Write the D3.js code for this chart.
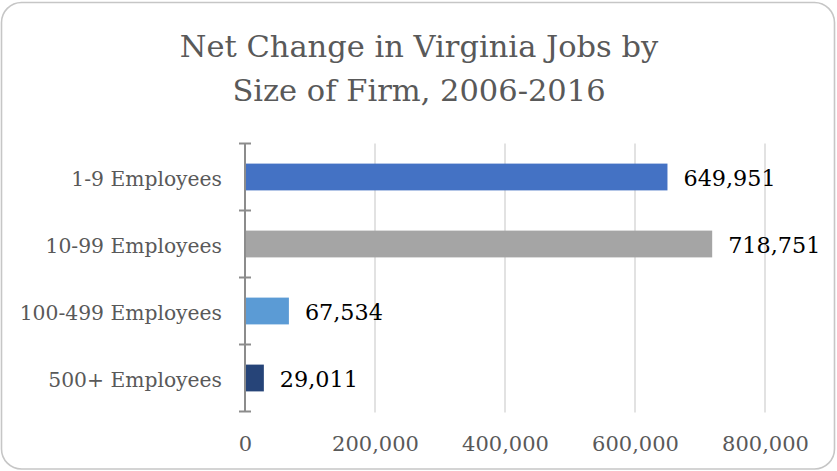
<!DOCTYPE html>
<html>
<head>
<meta charset="utf-8">
<script src="https://cdn.jsdelivr.net/npm/d3@7/dist/d3.min.js"></script>
<style>
  html, body { margin: 0; padding: 0; background: #fff; }
  svg { display: block; }
</style>
</head>
<body>
<svg id="chart" width="837" height="471"></svg>
<script>
const categories = ["1-9 Employees", "10-99 Employees", "100-499 Employees", "500+ Employees"];
const values = [649951, 718751, 67534, 29011];
const colors = ["#4472C4", "#A5A5A5", "#5B9BD5", "#264478"];
const tickValues = [0, 200000, 400000, 600000, 800000];
const titleLines = ["Net Change in Virginia Jobs by", "Size of Firm, 2006-2016"];

const FONT = "'DejaVu Serif', 'Liberation Serif', serif";
const svg = d3.select("#chart");

// border
svg.append("rect")
  .attr("x", 1.5).attr("y", 2.5)
  .attr("width", 833).attr("height", 466.5)
  .attr("rx", 20).attr("ry", 20)
  .attr("fill", "#fff")
  .attr("stroke", "#c6c6c6").attr("stroke-width", 1.6);

// title
svg.append("g").selectAll("text").data(titleLines).enter().append("text")
  .attr("x", 419)
  .attr("y", (d, i) => 57 + i * 44)
  .attr("text-anchor", "middle")
  .attr("font-family", FONT)
  .attr("font-size", 30.5)
  .attr("fill", "#595959")
  .text(d => d);

const x = d3.scaleLinear().domain([0, 800000]).range([245, 765]);
const y = d3.scaleBand().domain(categories).range([143.5, 411.5])
  .paddingInner(0.6).paddingOuter(0.3);

// gridlines
svg.append("g").selectAll("line").data(tickValues.slice(1)).enter().append("line")
  .attr("x1", d => x(d)).attr("x2", d => x(d))
  .attr("y1", 143.5).attr("y2", 412.5)
  .attr("stroke", "#d9d9d9").attr("stroke-width", 1.5);

// bars
svg.append("g").selectAll("rect").data(categories).enter().append("rect")
  .attr("x", x(0))
  .attr("y", d => y(d))
  .attr("width", (d, i) => x(values[i]) - x(0))
  .attr("height", y.bandwidth())
  .attr("fill", (d, i) => colors[i]);

// value labels
svg.append("g").selectAll("text").data(categories).enter().append("text")
  .attr("x", (d, i) => x(values[i]) + 16)
  .attr("y", d => y(d) + y.bandwidth() / 2 + 9)
  .attr("font-family", FONT)
  .attr("font-size", 22.3)
  .attr("fill", "#000")
  .text((d, i) => d3.format(",")(values[i]));

// vertical axis line + boundary ticks
const step = y.step();
const r0 = y.range()[0];
const boundaries = d3.range(categories.length + 1).map(i => r0 + i * step);
const axisG = svg.append("g");
axisG.append("line")
  .attr("x1", x(0)).attr("x2", x(0))
  .attr("y1", r0).attr("y2", y.range()[1])
  .attr("stroke", "#8c8c8c").attr("stroke-width", 2);
axisG.selectAll("line.tk").data(boundaries).enter().append("line")
  .attr("class", "tk")
  .attr("x1", x(0) - 6).attr("x2", x(0) + 6)
  .attr("y1", d => d).attr("y2", d => d)
  .attr("stroke", "#8c8c8c").attr("stroke-width", 2);

// category labels
const yAxis = d3.axisLeft(y).tickSize(0).tickPadding(23);
const yg = svg.append("g").attr("transform", `translate(${x(0)},0)`).call(yAxis);
yg.select(".domain").remove();
yg.selectAll("text")
  .attr("font-family", FONT)
  .attr("font-size", 20.3)
  .attr("fill", "#595959")
  .attr("dy", null)
  .attr("y", 8.5);

// x tick labels
const xAxis = d3.axisBottom(x).tickValues(tickValues).tickSize(0).tickFormat(d3.format(","));
const xg = svg.append("g").attr("transform", "translate(0,411.5)").call(xAxis);
xg.select(".domain").remove();
xg.selectAll("text")
  .attr("font-family", FONT)
  .attr("font-size", 21)
  .attr("fill", "#595959")
  .attr("dy", null)
  .attr("y", 39);
</script>
</body>
</html>
